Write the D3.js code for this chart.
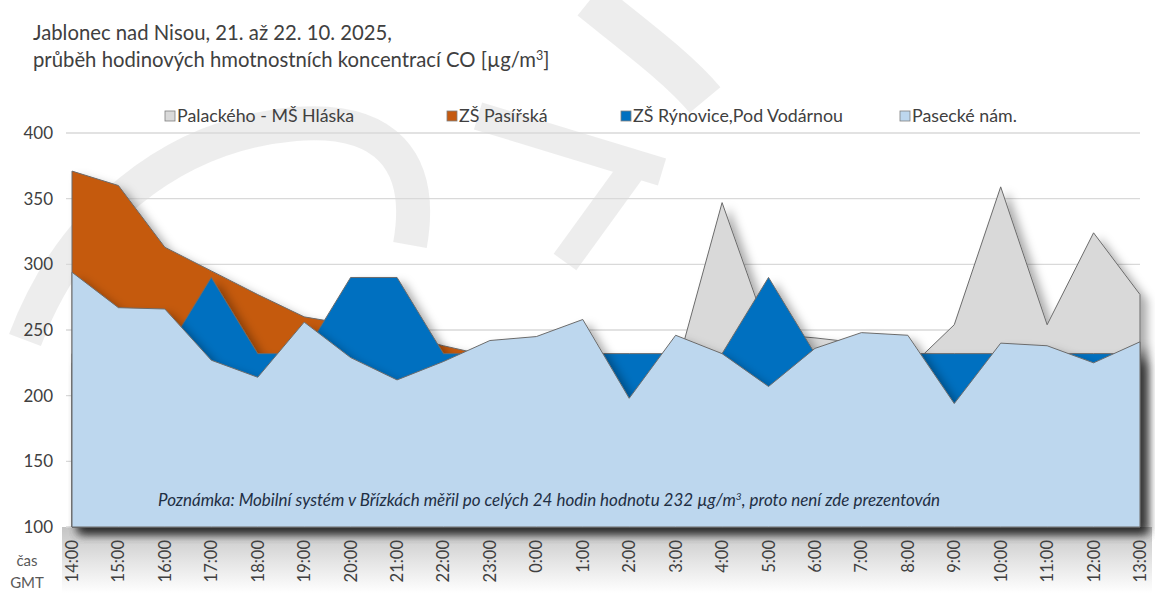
<!DOCTYPE html>
<html>
<head>
<meta charset="utf-8">
<script src="https://cdn.jsdelivr.net/npm/d3@7"></script>
<style>
  body { margin: 0; background: #fff; }
  text { font-family: Lato, "Open Sans", sans-serif; }
</style>
</head>
<body>
<div id="chart"></div>
<script>
// Data
var hours = ["14:00","15:00","16:00","17:00","18:00","19:00","20:00","21:00","22:00","23:00",
             "0:00","1:00","2:00","3:00","4:00","5:00","6:00","7:00","8:00","9:00",
             "10:00","11:00","12:00","13:00"];

var palackeho = [225,225,225,225,225,225,225,225,225,225,225,225,225,218,347,247,244,240,220,254,359,254,324,277];
var pasirska  = [371,360,313,295,277,260,254,247,238,230,228,228,228,228,228,228,228,228,228,228,228,228,228,228];
var rynovice  = [232,232,232,290,232,232,290,290,232,232,232,232,232,232,232,290,232,232,232,232,232,232,232,232];
var pasecke   = [294,267,266,227,214,256,229,212,226,242,245,258,198,246,232,207,236,248,246,194,240,238,225,241];

var seriesNames  = ["Palackého - MŠ Hláska", "ZŠ Pasířská", "ZŠ Rýnovice,Pod Vodárnou", "Pasecké nám."];
var seriesValues = [palackeho, pasirska, rynovice, pasecke];
var seriesColors = ["#d9d9d9", "#c55a11", "#0070c0", "#bdd7ee"];
var yTicks = [100, 150, 200, 250, 300, 350, 400];

var width = 1155,
    height = 593;

var svg = d3.select("#chart")
            .append("svg")
              .attr("width", width)
              .attr("height", height);

var defs = svg.append("defs");

// soft outer shadow like the Excel series
var shadow = defs.append("filter")
                 .attr("id", "shadow")
                 .attr("x", "-10%").attr("y", "-10%")
                 .attr("width", "130%").attr("height", "140%");
shadow.append("feDropShadow")
      .attr("dx", 7).attr("dy", 6)
      .attr("stdDeviation", 5)
      .attr("flood-color", "#000")
      .attr("flood-opacity", 0.33);

var grad = defs.append("linearGradient")
               .attr("id", "axisShade")
               .attr("x1", 0).attr("y1", 0).attr("x2", 0).attr("y2", 1);
grad.append("stop").attr("offset", "0%").attr("stop-color", "#c4c4c4");
grad.append("stop").attr("offset", "55%").attr("stop-color", "#e6e6e6");
grad.append("stop").attr("offset", "100%").attr("stop-color", "#ffffff");

// Scales
var x = d3.scalePoint()
          .domain(hours)
          .range([72, 1140]);

var y = d3.scaleLinear()
          .domain([100, 400])
          .range([527, 133]);

// faint watermark
var wm = svg.append("g").attr("fill", "none").attr("stroke", "#8c8c8c").attr("stroke-opacity", 0.16);
wm.append("path")
  .attr("d", "M 25 340 C 70 220, 170 135, 295 124 C 385 117, 425 160, 410 245")
  .attr("stroke-width", 34);
wm.append("path")
  .attr("d", "M 478 116 L 662 172 M 636 164 L 565 262")
  .attr("stroke-width", 28);
wm.append("path")
  .attr("d", "M 590 0 C 640 40, 680 70, 705 100")
  .attr("stroke-width", 40);

// shaded band under the plot
svg.append("rect")
   .attr("x", 62).attr("y", 527)
   .attr("width", 1090).attr("height", 66)
   .attr("fill", "url(#axisShade)");

// Gridlines
svg.append("g")
   .selectAll("line")
   .data(yTicks)
   .enter()
   .append("line")
     .attr("x1", 66)
     .attr("x2", 1140)
     .attr("y1", function(d) { return y(d); })
     .attr("y2", function(d) { return y(d); })
     .attr("stroke", "#d9d9d9")
     .attr("stroke-width", 1.3);

// Areas
var area = d3.area()
             .x(function(d, i) { return x(hours[i]); })
             .y0(y(100))
             .y1(function(d) { return y(d); });

svg.append("g")
   .selectAll("path")
   .data(seriesValues)
   .enter()
   .append("path")
     .attr("d", area)
     .attr("fill", function(d, i) { return seriesColors[i]; })
     .attr("stroke", "#6b6b6b")
     .attr("stroke-width", 1)
     .attr("stroke-linejoin", "round")
     .attr("filter", "url(#shadow)");

// Y axis labels
svg.append("g")
   .selectAll("text")
   .data(yTicks)
   .enter()
   .append("text")
     .attr("x", 53)
     .attr("y", function(d) { return y(d) + 6; })
     .attr("text-anchor", "end")
     .attr("font-size", 17)
     .attr("fill", "#404040")
     .text(function(d) { return d; });

// X axis labels, rotated
svg.append("g")
   .selectAll("text")
   .data(hours)
   .enter()
   .append("text")
     .attr("transform", function(d) { return "translate(" + (x(d) + 6) + ",540) rotate(-90)"; })
     .attr("text-anchor", "end")
     .attr("font-size", 16.5)
     .attr("fill", "#404040")
     .text(function(d) { return d; });

svg.append("text")
   .attr("x", 27).attr("y", 566)
   .attr("text-anchor", "middle")
   .attr("font-size", 15)
   .attr("fill", "#595959")
   .text("čas");
svg.append("text")
   .attr("x", 27).attr("y", 588)
   .attr("text-anchor", "middle")
   .attr("font-size", 15)
   .attr("fill", "#595959")
   .text("GMT");

// Title
var title = svg.append("text")
               .attr("x", 33)
               .attr("font-size", 20.3)
               .attr("fill", "#404040");
title.append("tspan").attr("x", 33).attr("y", 40).text("Jablonec nad Nisou, 21. až 22. 10. 2025,");
var t2 = title.append("tspan").attr("x", 33).attr("y", 67);
t2.append("tspan").text("průběh hodinových hmotnostních koncentrací CO [µg/m");
t2.append("tspan").attr("font-size", 12.5).attr("dy", -7).text("3");
t2.append("tspan").attr("dy", 7).text("]");

// Legend
var legendX = [165, 447, 621, 900];
var legend = svg.append("g")
                .selectAll("g")
                .data(seriesNames)
                .enter()
                .append("g")
                  .attr("transform", function(d, i) { return "translate(" + legendX[i] + ",111)"; });
legend.append("rect")
      .attr("width", 10).attr("height", 10)
      .attr("fill", function(d, i) { return seriesColors[i]; })
      .attr("stroke", "#7f7f7f")
      .attr("stroke-width", 0.8);
legend.append("text")
      .attr("x", 12).attr("y", 11)
      .attr("font-size", 17.8)
      .attr("fill", "#404040")
      .text(function(d) { return d; });

// Note
var note = svg.append("text")
              .attr("x", 158).attr("y", 506)
              .attr("font-size", 17)
              .attr("font-style", "italic")
              .attr("fill", "#1f2f44");
note.append("tspan").text("Poznámka: Mobilní systém v Břízkách měřil po celých 24 hodin hodnotu 232 µg/m");
note.append("tspan").attr("font-size", 10).attr("dy", -6).text("3");
note.append("tspan").attr("dy", 6).text(", proto není zde prezentován");
</script>
</body>
</html>
